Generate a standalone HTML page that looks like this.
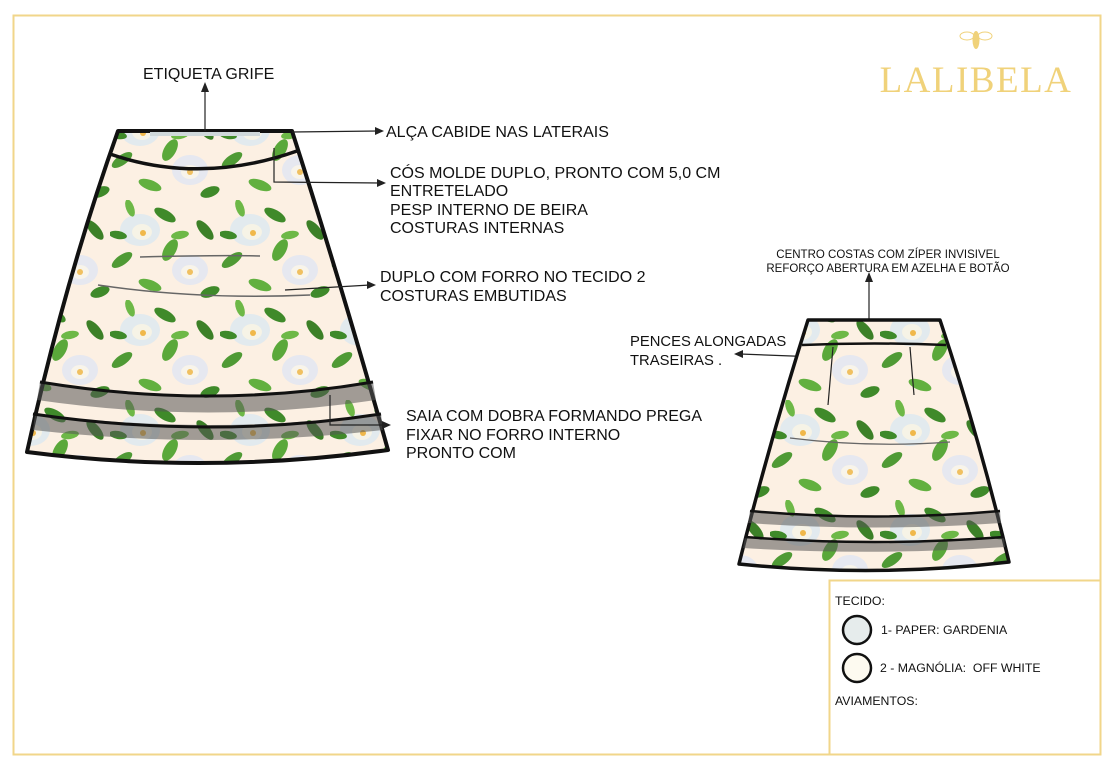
<!DOCTYPE html>
<html><head><meta charset="utf-8"><style>
html,body{margin:0;padding:0;background:#fff}
svg{display:block}
text{font-family:"Liberation Sans",Arial,sans-serif;fill:#111}
</style></head><body>
<svg width="1112" height="765" viewBox="0 0 1112 765" xmlns="http://www.w3.org/2000/svg">
<defs>
<pattern id="fl" width="110" height="100" patternUnits="userSpaceOnUse">
<rect width="110" height="100" fill="#fcf0e3"/>
<ellipse cx="30" cy="30" rx="20" ry="16" fill="#e2eaee"/>
<ellipse cx="32" cy="32" rx="10" ry="8" fill="#f6f3e6"/>
<circle cx="33" cy="33" r="3" fill="#f0b84a"/>
<ellipse cx="80" cy="70" rx="18" ry="15" fill="#e6e8f0"/>
<ellipse cx="80" cy="72" rx="9" ry="7" fill="#f8f4ea"/>
<circle cx="80" cy="72" r="3" fill="#f0c060"/>
<ellipse cx="12" cy="60" rx="12" ry="5" fill="#4f9a35" transform="rotate(-35 12 60)"/>
<ellipse cx="55" cy="15" rx="12" ry="5" fill="#3f8a2a" transform="rotate(30 55 15)"/>
<ellipse cx="60" cy="50" rx="12" ry="6" fill="#5aa83a" transform="rotate(-60 60 50)"/>
<ellipse cx="95" cy="30" rx="12" ry="5" fill="#3c8028" transform="rotate(50 95 30)"/>
<ellipse cx="40" cy="85" rx="12" ry="5" fill="#62b040" transform="rotate(20 40 85)"/>
<ellipse cx="100" cy="92" rx="10" ry="5" fill="#3f8a2a" transform="rotate(-20 100 92)"/>
<ellipse cx="20" cy="8" rx="9" ry="4" fill="#6db847" transform="rotate(70 20 8)"/>
<ellipse cx="8" cy="35" rx="9" ry="4" fill="#3f8a2a" transform="rotate(10 8 35)"/>
<ellipse cx="70" cy="35" rx="9" ry="4" fill="#6db847" transform="rotate(-10 70 35)"/>
</pattern>
</defs>
<rect x="13.5" y="15.5" width="1087" height="739" fill="none" stroke="#f1d68a" stroke-width="2"/>
<g fill="#f0d27a"><ellipse cx="976" cy="40" rx="3.5" ry="9"/><ellipse cx="967" cy="36" rx="7" ry="4" fill="none" stroke="#f0d27a"/><ellipse cx="985" cy="36" rx="7" ry="4" fill="none" stroke="#f0d27a"/></g>
<text x="976" y="92" text-anchor="middle" font-size="37" letter-spacing="1.5" style="fill:#f0d27a;font-family:'Liberation Serif',serif">LALIBELA</text>

<path d="M118,131 L292,131 Q340,280 388,450 Q205,475 27,452 Q65,280 118,131Z" fill="url(#fl)" stroke="#111" stroke-width="4" stroke-linejoin="round"/>
<rect x="150" y="132" width="110" height="4" fill="#cfd8da"/>
<path d="M110,154 Q200,185 297,151" fill="none" stroke="#111" stroke-width="3.5"/>
<path d="M40,382 Q210,410 373,382 L376,400 Q210,425 37,400Z" fill="#555" opacity="0.55"/>
<path d="M35,414 Q210,436 381,414 L383,430 Q210,450 33,430Z" fill="#555" opacity="0.55"/>
<path d="M40,382 Q210,410 373,382" fill="none" stroke="#111" stroke-width="3"/>
<path d="M33,414 Q210,440 381,414" fill="none" stroke="#111" stroke-width="3"/>
<path d="M140,257 Q220,255 260,256" fill="none" stroke="#666" stroke-width="1.5"/>
<path d="M98,285 Q200,300 310,295" fill="none" stroke="#666" stroke-width="1.5"/>
<g stroke="#222" stroke-width="1.2" fill="none">
<line x1="205" y1="131" x2="205" y2="88"/>
<line x1="292" y1="132" x2="378" y2="131"/>
<polyline points="274,148 274,182 380,183"/>
<line x1="285" y1="290" x2="370" y2="285"/>
<polyline points="330,395 330,425 385,425"/>
<line x1="740" y1="354" x2="818" y2="357"/>
<line x1="869" y1="510" x2="869" y2="278"/>
</g>
<g fill="#222">
<polygon points="205,82 201,92 209,92"/>
<polygon points="384,131 375,127 375,135"/>
<polygon points="386,183 377,179 377,187"/>
<polygon points="376,285 367,281 367,289"/>
<polygon points="391,425 382,421 382,429"/>
<polygon points="734,354 743,350 743,358"/>
<polygon points="869,272 865,282 873,282"/>
</g>
<g font-size="16">
<text x="143" y="79">ETIQUETA GRIFE</text>
<text x="386" y="137">ALÇA CABIDE NAS LATERAIS</text>
<text x="390" y="178">CÓS MOLDE DUPLO, PRONTO COM 5,0 CM</text>
<text x="390" y="196">ENTRETELADO</text>
<text x="390" y="215">PESP INTERNO DE BEIRA</text>
<text x="390" y="233">COSTURAS INTERNAS</text>
<text x="380" y="282">DUPLO COM FORRO NO TECIDO 2</text>
<text x="380" y="301">COSTURAS EMBUTIDAS</text>
<text x="406" y="421">SAIA COM DOBRA FORMANDO PREGA</text>
<text x="406" y="440">FIXAR NO FORRO INTERNO</text>
<text x="406" y="458">PRONTO COM</text>
</g>
<g font-size="14.8">
<text x="630" y="346">PENCES ALONGADAS</text>
<text x="630" y="365">TRASEIRAS .</text>
</g>
<g font-size="11.5" text-anchor="middle">
<text x="888" y="258">CENTRO COSTAS COM ZÍPER INVISIVEL</text>
<text x="888" y="272">REFORÇO ABERTURA EM AZELHA E BOTÃO</text>
</g>

<path d="M808,320 L940,320 Q980,440 1009,562 Q875,578 739,564 Q770,440 808,320Z" fill="url(#fl)" stroke="#111" stroke-width="3.5" stroke-linejoin="round"/>
<path d="M802,345 Q875,342 946,345" fill="none" stroke="#111" stroke-width="2.5"/>
<line x1="833" y1="347" x2="828" y2="405" stroke="#222" stroke-width="1.2"/>
<line x1="910" y1="347" x2="914" y2="395" stroke="#222" stroke-width="1.2"/>
<path d="M750,511 Q875,522 1000,511 L1001,523 Q875,532 748,523Z" fill="#555" opacity="0.55"/>
<path d="M745,537 Q875,547 1004,537 L1005,547 Q875,556 743,548Z" fill="#555" opacity="0.55"/>
<path d="M750,511 Q875,522 1000,511" fill="none" stroke="#111" stroke-width="2.5"/>
<path d="M745,537 Q875,547 1004,537" fill="none" stroke="#111" stroke-width="2.5"/>
<path d="M790,438 Q870,448 950,442" fill="none" stroke="#666" stroke-width="1.2"/>

<rect x="829.5" y="580.5" width="271" height="174" fill="#fff" stroke="#f1d68a" stroke-width="2"/>
<g font-size="12.3">
<text x="835" y="605">TECIDO:</text>
<text x="881" y="634">1- PAPER: GARDENIA</text>
<text x="880" y="672" xml:space="preserve">2 - MAGNÓLIA:  OFF WHITE</text>
<text x="835" y="705">AVIAMENTOS:</text>
</g>
<circle cx="857" cy="630" r="14" fill="#e6ecec" stroke="#111" stroke-width="2.5"/>
<circle cx="857" cy="668" r="14" fill="#fdfaf0" stroke="#111" stroke-width="2.5"/>
</svg>
</body></html>
